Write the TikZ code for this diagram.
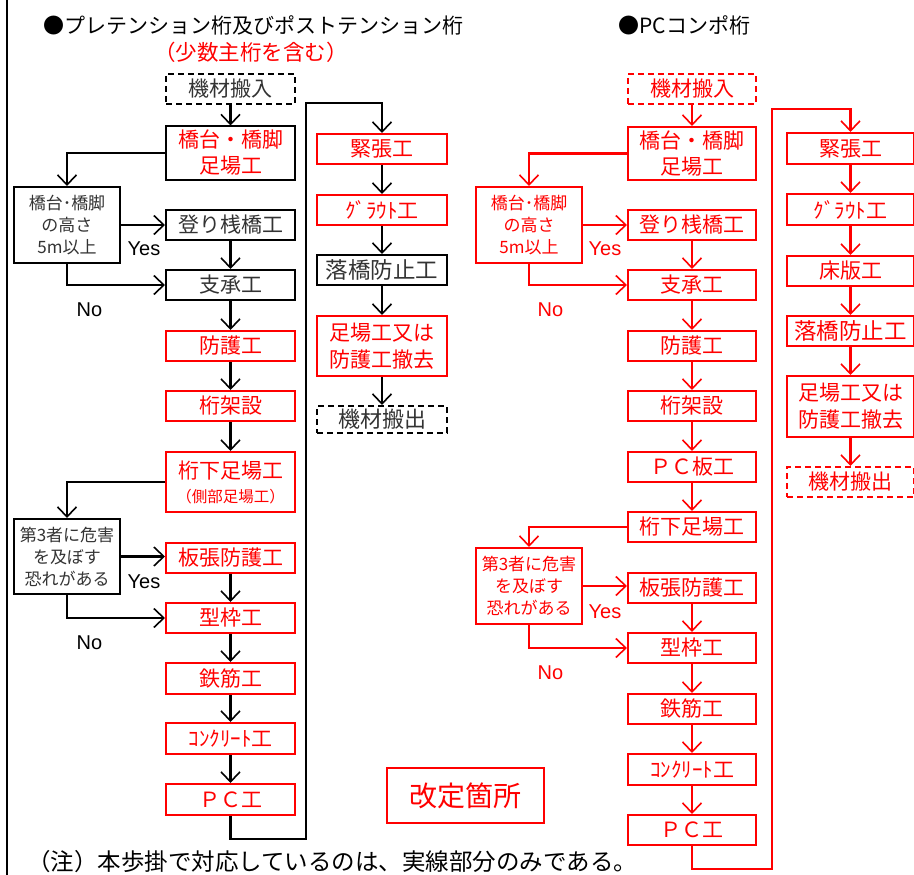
\documentclass[tikz,border=0pt]{standalone}
\usepackage{fontspec}
\newfontfamily\jp{Noto Sans CJK JP}
\newfontfamily\arialf{Liberation Sans}
\usetikzlibrary{arrows.meta}
\definecolor{txtg}{HTML}{333333}
\definecolor{rd}{RGB}{255,0,0}
\begin{document}
\begin{tikzpicture}[x=1pt,y=-1pt,
 every node/.style={inner sep=0pt, align=center},
 bx/.style={draw, line width=2pt, minimum width=129pt, minimum height=30pt, font=\jp\fontsize{21}{26}\selectfont},
 kb/.style={bx, draw=black, text=txtg},
 kr/.style={bx, draw=black, text=rd},
 rr/.style={bx, draw=rd, text=rd},
 dsh/.style={dash pattern=on 6pt off 4pt},
 dec/.style={draw, line width=2pt, minimum width=106pt, minimum height=76pt, font=\jp\fontsize{17}{22}\selectfont},
 lnk/.style={line width=2.1pt, draw=black},
 arr/.style={lnk, -{Straight Barb[length=10pt,width=19pt,line width=1.6pt]}},
 rlnk/.style={lnk, draw=rd},
 rarr/.style={arr, draw=rd},
 yn/.style={font=\arialf\fontsize{20}{24}\selectfont, anchor=base},
]
\useasboundingbox (0,0) rectangle (914,875);
\fill[white] (0,0) rectangle (914,875);
\draw[line width=1.5pt] (7,0) -- (7,875);

% titles
\node[font=\jp\fontsize{21}{25}\selectfont] (t1) at (253.5,25) {●プレテンション桁及びポストテンション桁};
\node[font=\jp\fontsize{21.5}{25}\selectfont, text=rd] (t1b) at (251,52) {（少数主桁を含む）};
\node[font=\jp\fontsize{21}{25}\selectfont] (t2) at (684.5,25) {●PCコンポ桁};

% left column
\node[kb, dsh] (Lin) at (230.5,89) {機材搬入};
\node[kr, minimum height=53pt] (Lfoot) at (230.5,153) {橋台・橋脚\\足場工};
\node[dec, draw=black, text=txtg] (Ld1) at (67,225) {橋台･橋脚\\の高さ\\5m以上};
\node[kb] (Lnobori) at (230.5,225) {登り桟橋工};
\node[kb] (Lshisho) at (230.5,285) {支承工};
\node[rr] (Lbougo) at (230.5,346) {防護工};
\node[rr] (Lketa) at (230.5,406) {桁架設};
\node[rr, minimum height=60pt, font=\jp\fontsize{21}{24}\selectfont] (Lkshita) at (230.5,482) {桁下足場工\\{\fontsize{15.5}{18}\selectfont （側部足場工）}};
\node[dec, draw=black, text=txtg, minimum height=75pt] (Ld2) at (67,556.5) {第3者に危害\\を及ぼす\\恐れがある};
\node[rr] (Litabari) at (230.5,557.5) {板張防護工};
\node[rr] (Lkata) at (230.5,618) {型枠工};
\node[rr, minimum height=31pt] (Ltekkin) at (230.5,678.5) {鉄筋工};
\node[rr, minimum height=31pt] (Lconc) at (230.5,738.5) {ｺﾝｸﾘｰﾄ工};
\node[rr, minimum height=31pt] (Lpc) at (230.5,799.5) {ＰＣ工};

% middle column
\node[rr, minimum width=130pt] (Mkin) at (382,149) {緊張工};
\node[rr, minimum width=130pt] (Mgrout) at (382,210) {ｸﾞﾗｳﾄ工};
\node[kb, minimum width=130pt, font=\jp\fontsize{22.5}{26}\selectfont] (Mrakkyo) at (382,270) {落橋防止工};
\node[rr, minimum width=130pt, minimum height=60pt, font=\jp\fontsize{21}{27}\selectfont] (Mtekkyo) at (382,346) {足場工又は\\防護工撤去};
\node[kb, dsh, minimum width=130pt, minimum height=27pt, font=\jp\fontsize{22}{26}\selectfont] (Mout) at (382,419.5) {機材搬出};

% right PC column
\node[rr, dsh, minimum width=128pt] (Rin) at (692,89) {機材搬入};
\node[rr, minimum width=128pt, minimum height=53pt] (Rfoot) at (692,153.5) {橋台・橋脚\\足場工};
\node[dec, draw=rd, text=rd] (Rd1) at (529,225) {橋台･橋脚\\の高さ\\5m以上};
\node[rr, minimum width=128pt] (Rnobori) at (692,225) {登り桟橋工};
\node[rr, minimum width=128pt] (Rshisho) at (692,285) {支承工};
\node[rr, minimum width=128pt] (Rbougo) at (692,346) {防護工};
\node[rr, minimum width=128pt] (Rketa) at (692,406) {桁架設};
\node[rr, minimum width=128pt] (Rpcban) at (692,467) {ＰＣ板工};
\node[rr, minimum width=128pt] (Rkshita) at (692,527) {桁下足場工};
\node[dec, draw=rd, text=rd] (Rd2) at (529,586) {第3者に危害\\を及ぼす\\恐れがある};
\node[rr, minimum width=128pt] (Ritabari) at (692,588) {板張防護工};
\node[rr, minimum width=128pt] (Rkata) at (692,648) {型枠工};
\node[rr, minimum width=128pt] (Rtekkin) at (692,709) {鉄筋工};
\node[rr, minimum width=128pt, minimum height=31pt] (Rconc) at (692,769.5) {ｺﾝｸﾘｰﾄ工};
\node[rr, minimum width=128pt] (Rpc) at (692,830) {ＰＣ工};

% far right column
\node[rr, minimum width=127pt, minimum height=31pt] (Qkin) at (850.5,148.5) {緊張工};
\node[rr, minimum width=127pt, minimum height=31pt] (Qgrout) at (850.5,209.5) {ｸﾞﾗｳﾄ工};
\node[rr, minimum width=127pt] (Qshouban) at (850.5,271) {床版工};
\node[rr, minimum width=127pt, font=\jp\fontsize{22.5}{26}\selectfont] (Qrakkyo) at (850.5,331) {落橋防止工};
\node[rr, minimum width=127pt, minimum height=61pt, font=\jp\fontsize{21}{27}\selectfont] (Qtekkyo) at (850.5,406.5) {足場工又は\\防護工撤去};
\node[rr, dsh, minimum width=127pt] (Qout) at (850.5,482) {機材搬出};

% legend box and note
\node[draw=rd, line width=1.5pt, minimum width=157pt, minimum height=55pt, text=rd, font=\jp\fontsize{28}{32}\selectfont] (kaitei) at (465.5,795.5) {改定箇所};
\node[anchor=west, font=\jp\fontsize{23.5}{26}\selectfont] (note) at (27,862) {（注）本歩掛で対応しているのは、実線部分のみである。};

% yes/no labels
\node[yn] (LyA) at (144,255) {Yes};
\node[yn] (LnA) at (89.5,316) {No};
\node[yn] (LyB) at (144,588) {Yes};
\node[yn] (LnB) at (89.5,649) {No};
\node[yn, text=rd] (RyA) at (605,255) {Yes};
\node[yn, text=rd] (RnA) at (550.5,316) {No};
\node[yn, text=rd] (RyB) at (605,618) {Yes};
\node[yn, text=rd] (RnB) at (550.5,679) {No};

% left connectors
\draw[arr] (Lin) -- (Lfoot);
\draw[arr] (Lfoot.west) -| (Ld1.north);
\draw[arr] (Ld1.east) -- (Ld1.east -| Lnobori.west);
\draw[arr] (Lnobori) -- (Lshisho);
\draw[arr] (Ld1.south) |- (Lshisho.west);
\draw[arr] (Lshisho) -- (Lbougo);
\draw[arr] (Lbougo) -- (Lketa);
\draw[arr] (Lketa) -- (Lkshita);
\draw[arr] (Lkshita.west) -| (Ld2.north);
\draw[arr] (Ld2.east) -- (Ld2.east -| Litabari.west);
\draw[arr] (Litabari) -- (Lkata);
\draw[arr] (Ld2.south) |- (Lkata.west);
\draw[arr] (Lkata) -- (Ltekkin);
\draw[arr] (Ltekkin) -- (Lconc);
\draw[arr] (Lconc) -- (Lpc);
\coordinate (Lup) at (306,103);
\draw[arr] (Lpc.south) -- ++(0,23) -| (Lup) -| (Mkin.north);
\draw[arr] (Mkin) -- (Mgrout);
\draw[arr] (Mgrout) -- (Mrakkyo);
\draw[arr] (Mrakkyo) -- (Mtekkyo);
\draw[arr] (Mtekkyo) -- (Mout);

% right connectors
\draw[rarr] (Rin) -- (Rfoot);
\draw[rarr] (Rfoot.west) -| (Rd1.north);
\draw[rarr] (Rd1.east) -- (Rd1.east -| Rnobori.west);
\draw[rarr] (Rnobori) -- (Rshisho);
\draw[rarr] (Rd1.south) |- (Rshisho.west);
\draw[rarr] (Rshisho) -- (Rbougo);
\draw[rarr] (Rbougo) -- (Rketa);
\draw[rarr] (Rketa) -- (Rpcban);
\draw[rarr] (Rpcban) -- (Rkshita);
\draw[rarr] (Rkshita.west) -| (Rd2.north);
\draw[rarr] (Rd2.east) -- (Rd2.east -| Ritabari.west);
\draw[rarr] (Ritabari) -- (Rkata);
\draw[rarr] (Rd2.south) |- (Rkata.west);
\draw[rarr] (Rkata) -- (Rtekkin);
\draw[rarr] (Rtekkin) -- (Rconc);
\draw[rarr] (Rconc) -- (Rpc);
\coordinate (Rup) at (772,109);
\draw[rarr] (Rpc.south) -- ++(0,23) -| (Rup) -| (Qkin.north);
\draw[rarr] (Qkin) -- (Qgrout);
\draw[rarr] (Qgrout) -- (Qshouban);
\draw[rarr] (Qshouban) -- (Qrakkyo);
\draw[rarr] (Qrakkyo) -- (Qtekkyo);
\draw[rarr] (Qtekkyo) -- (Qout);
\end{tikzpicture}
\end{document}
